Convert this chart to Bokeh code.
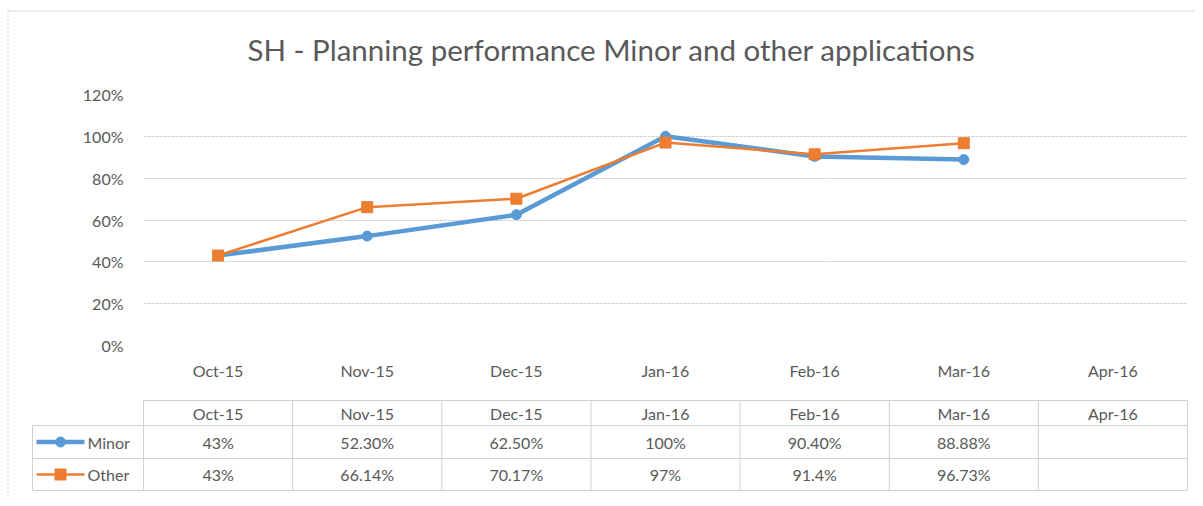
import math
from bokeh.plotting import figure
from bokeh.models import Range1d, FactorRange, FixedTicker, NumeralTickFormatter, ColumnDataSource
from bokeh.core.properties import value
from bokeh.embed import file_html
from bokeh.resources import INLINE

# ---- data ----
months = ["Oct-15", "Nov-15", "Dec-15", "Jan-16", "Feb-16", "Mar-16", "Apr-16"]
minor = [0.43, 0.523, 0.625, 1.00, 0.904, 0.8888, float("nan")]
other = [0.43, 0.6614, 0.7017, 0.97, 0.914, 0.9673, float("nan")]
minor_labels = ["43%", "52.30%", "62.50%", "100%", "90.40%", "88.88%", ""]
other_labels = ["43%", "66.14%", "70.17%", "97%", "91.4%", "96.73%", ""]
y_ticks = [0, 0.2, 0.4, 0.6, 0.8, 1.0, 1.2]
series_names = ["Minor", "Other"]

BLUE = "#5B9BD5"
ORANGE = "#ED7D31"
TXT = "#595959"
GRID = "#d9d9d9"
TBL = "#d0d0d0"
FONT = "Lato"

W, H = 1195, 498
FL, FR, FT, FB = 143, 1187, 94, 345  # plot frame in canvas pixels
n = len(months)
colw = (FR - FL) / n


def sx(px):
    """canvas pixel -> synthetic categorical coordinate"""
    return (px - FL) / colw


p = figure(width=W, height=H, output_backend="svg", toolbar_location=None,
           x_range=FactorRange(*months, range_padding=0),
           y_range=Range1d(0, 1.2),
           min_border_left=FL, min_border_right=W - FR,
           min_border_top=FT, min_border_bottom=H - FB,
           title="SH - Planning performance Minor and other applications")
p.outline_line_color = None
p.background_fill_color = "white"
p.border_fill_color = "white"

p.title.text_font = FONT
p.title.text_font_size = "29.5px"
p.title.text_font_style = "normal"
p.title.text_color = TXT
p.title.align = "left"
p.title.offset = 104
p.title.standoff = 55

# canvas-pixel y range for layout items (table, legend keys, border)
p.extra_y_ranges = {"cy": Range1d(FB, FT)}

# axes
p.xgrid.visible = False
p.ygrid.ticker = FixedTicker(ticks=y_ticks)
p.ygrid.grid_line_color = "#cfcfcf"
p.ygrid.grid_line_dash = "3 1"
p.yaxis.ticker = FixedTicker(ticks=y_ticks)
p.yaxis.formatter = NumeralTickFormatter(format="0%")
for ax in (p.xaxis, p.yaxis):
    ax.axis_line_color = None
    ax.major_tick_line_color = None
    ax.minor_tick_line_color = None
    ax.major_label_text_font = FONT
    ax.major_label_text_font_size = "16px"
    ax.major_label_text_color = TXT
p.xaxis.major_label_standoff = 9
p.yaxis.major_label_standoff = 14

# series
src = ColumnDataSource(dict(x=months, minor=minor, other=other))
p.line("x", "minor", source=src, line_color=BLUE, line_width=4.5)
p.scatter("x", "minor", source=src, marker="circle", size=10, fill_color=BLUE, line_color=BLUE)
p.line("x", "other", source=src, line_color=ORANGE, line_width=2.5)
p.scatter("x", "other", source=src, marker="square", size=11, fill_color=ORANGE, line_color=ORANGE)

# ---- data table ----
y_head_top, y_head_bot, y_r1_bot, y_r2_bot = 400, 425, 458, 490
leg_left = sx(32)
hx0 = [0, leg_left, leg_left, leg_left]
hx1 = [n, n, n, n]
hy = [y_head_top, y_head_bot, y_r1_bot, y_r2_bot]
p.segment(x0=hx0, y0=hy, x1=hx1, y1=hy, line_color=TBL, line_width=1,
          y_range_name="cy", level="annotation")
vx = [leg_left] + list(range(n + 1))
vy0 = [y_head_bot] + [y_head_top] * (n + 1)
vy1 = [y_r2_bot] * (n + 2)
p.segment(x0=vx, y0=vy0, x1=vx, y1=vy1, line_color=TBL, line_width=1,
          y_range_name="cy", level="annotation")

row_y = [(y_head_top + y_head_bot) / 2, (y_head_bot + y_r1_bot) / 2, (y_r1_bot + y_r2_bot) / 2]
for labels, yy in ((months, row_y[0]), (minor_labels, row_y[1]), (other_labels, row_y[2])):
    p.text(x=months, y=[yy] * n, text=labels, y_range_name="cy", level="annotation",
           text_align="center", text_baseline="middle", text_font=value(FONT),
           text_font_size="16px", text_color=TXT)

# legend keys in the table (line + marker sample + name)
key_x0, key_x1, key_mx, name_x = 36, 84, 60, 87
for name, col, marker, lw, yy in ((series_names[0], BLUE, "circle", 4.5, row_y[1]),
                                  (series_names[1], ORANGE, "square", 2.5, row_y[2])):
    p.line(x=[sx(key_x0), sx(key_x1)], y=[yy, yy], line_color=col, line_width=lw,
           y_range_name="cy", level="annotation")
    if marker == "circle":
        r = 5
        mx = [sx(key_mx + r * math.cos(2 * math.pi * k / 32)) for k in range(32)]
        my = [yy + r * math.sin(2 * math.pi * k / 32) for k in range(32)]
    else:
        h = 5.5
        mx = [sx(key_mx - h), sx(key_mx + h), sx(key_mx + h), sx(key_mx - h)]
        my = [yy - h, yy - h, yy + h, yy + h]
    p.patch(x=mx, y=my, fill_color=col, line_color=col, y_range_name="cy", level="annotation")
    p.text(x=[sx(name_x)], y=[yy], text=[name], y_range_name="cy", level="annotation",
           text_align="left", text_baseline="middle", text_font=value(FONT),
           text_font_size="16px", text_color=TXT)

# outer chart border (top solid, left dotted)
p.segment(x0=[sx(7)], y0=[10.5], x1=[sx(W)], y1=[10.5], line_color=GRID,
          line_width=1, y_range_name="cy", level="annotation")
p.segment(x0=[sx(7.5)], y0=[10.5], x1=[sx(7.5)], y1=[H], line_color=GRID, line_dash="2 2",
          line_width=1, y_range_name="cy", level="annotation")

open("out.html", "w").write(file_html(p, INLINE))
